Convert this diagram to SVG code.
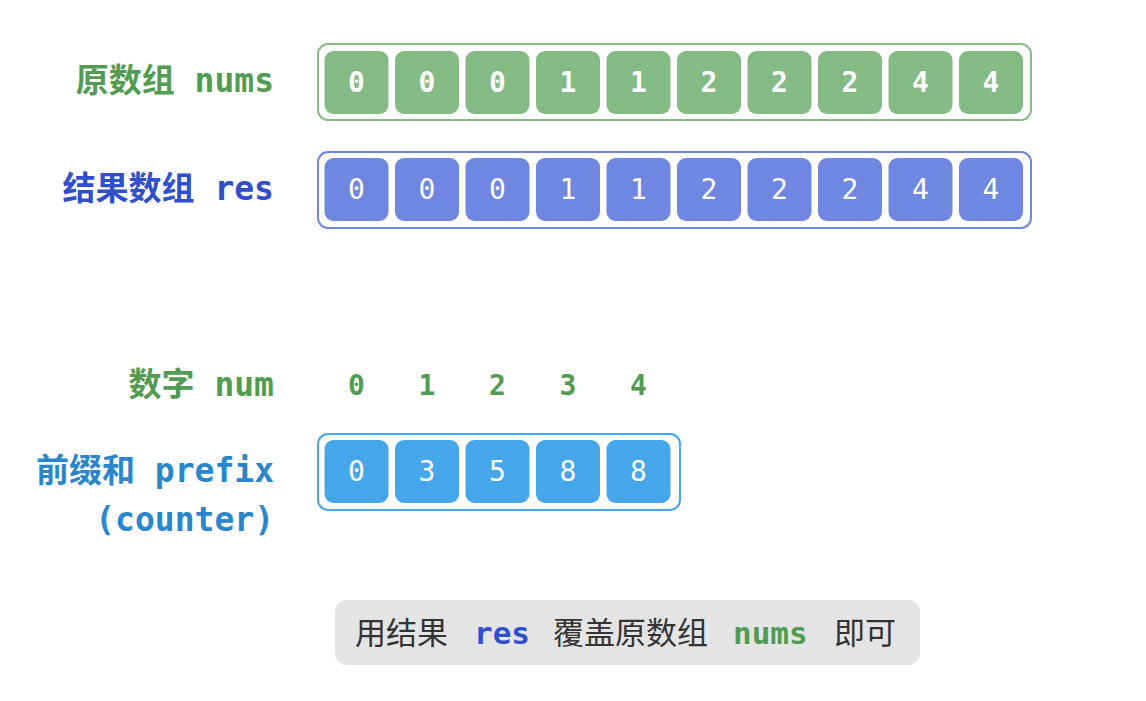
<svg xmlns="http://www.w3.org/2000/svg" width="1146" height="701" viewBox="0 0 1146 701">
<style>
.lbl{font-family:"DejaVu Sans Mono","Noto Sans CJK SC",monospace;font-weight:bold;font-size:33px;text-anchor:end}
.g{fill:#529b52}
.b{fill:#2f4fcd}
.lb{fill:#2a86cb}
.dig{font-family:"DejaVu Sans Mono",monospace;font-size:28px;fill:#ffffff;text-anchor:middle}
.bold{font-weight:bold}
.box{fill:#ffffff;stroke-width:2}
.numd{font-family:"DejaVu Sans Mono",monospace;font-size:28px;font-weight:bold;fill:#529b52;text-anchor:middle}
.note{font-family:"Noto Sans CJK SC","Noto Sans",sans-serif;font-size:31px;fill:#333333}
.code{font-family:"DejaVu Sans Mono",monospace;font-weight:bold;font-size:31px}
</style>
<rect width="1146" height="701" fill="#ffffff"/>

<g id="label-nums"><text class="lbl g" x="274" y="92">原数组 nums</text></g>
<g id="label-res"><text class="lbl b" x="274" y="200">结果数组 res</text></g>
<g id="label-num"><text class="lbl g" x="274" y="396">数字 num</text></g>
<g id="label-prefix"><text class="lbl lb" x="274" y="482">前缀和 prefix</text><text class="lbl lb" x="274" y="531">(counter)</text></g>

<g id="nums">
<rect class="box" x="318" y="44" width="713" height="76" rx="10" stroke="#86bc86"/>
<g fill="#84ba84">
<rect x="324.5" y="51" width="64" height="63" rx="9"/>
<rect x="395" y="51" width="64" height="63" rx="9"/>
<rect x="465.5" y="51" width="64" height="63" rx="9"/>
<rect x="536" y="51" width="64" height="63" rx="9"/>
<rect x="606.5" y="51" width="64" height="63" rx="9"/>
<rect x="677" y="51" width="64" height="63" rx="9"/>
<rect x="747.5" y="51" width="64" height="63" rx="9"/>
<rect x="818" y="51" width="64" height="63" rx="9"/>
<rect x="888.5" y="51" width="64" height="63" rx="9"/>
<rect x="959" y="51" width="64" height="63" rx="9"/>
</g>
<g class="dig bold">
<text x="356.5" y="92">0</text><text x="427" y="92">0</text><text x="497.5" y="92">0</text><text x="568" y="92">1</text><text x="638.5" y="92">1</text><text x="709" y="92">2</text><text x="779.5" y="92">2</text><text x="850" y="92">2</text><text x="920.5" y="92">4</text><text x="991" y="92">4</text>
</g>
</g>

<g id="res">
<rect class="box" x="318" y="152" width="713" height="76" rx="10" stroke="#6f87e0"/>
<g fill="#6f87e0">
<rect x="324.5" y="158" width="64" height="63" rx="9"/>
<rect x="395" y="158" width="64" height="63" rx="9"/>
<rect x="465.5" y="158" width="64" height="63" rx="9"/>
<rect x="536" y="158" width="64" height="63" rx="9"/>
<rect x="606.5" y="158" width="64" height="63" rx="9"/>
<rect x="677" y="158" width="64" height="63" rx="9"/>
<rect x="747.5" y="158" width="64" height="63" rx="9"/>
<rect x="818" y="158" width="64" height="63" rx="9"/>
<rect x="888.5" y="158" width="64" height="63" rx="9"/>
<rect x="959" y="158" width="64" height="63" rx="9"/>
</g>
<g class="dig">
<text x="356.5" y="199">0</text><text x="427" y="199">0</text><text x="497.5" y="199">0</text><text x="568" y="199">1</text><text x="638.5" y="199">1</text><text x="709" y="199">2</text><text x="779.5" y="199">2</text><text x="850" y="199">2</text><text x="920.5" y="199">4</text><text x="991" y="199">4</text>
</g>
</g>

<g id="num-values">
<text class="numd" x="356.5" y="395">0</text><text class="numd" x="427" y="395">1</text><text class="numd" x="497.5" y="395">2</text><text class="numd" x="568" y="395">3</text><text class="numd" x="638.5" y="395">4</text>
</g>

<g id="prefix">
<rect class="box" x="318" y="434" width="362" height="76" rx="10" stroke="#46a6ea"/>
<g fill="#46a6ea">
<rect x="324.5" y="440" width="64" height="63" rx="9"/>
<rect x="395" y="440" width="64" height="63" rx="9"/>
<rect x="465.5" y="440" width="64" height="63" rx="9"/>
<rect x="536" y="440" width="64" height="63" rx="9"/>
<rect x="606.5" y="440" width="64" height="63" rx="9"/>
</g>
<g class="dig">
<text x="356.5" y="481">0</text><text x="427" y="481">3</text><text x="497.5" y="481">5</text><text x="568" y="481">8</text><text x="638.5" y="481">8</text>
</g>
</g>

<g id="note">
<rect x="335" y="600" width="585" height="65" rx="12" fill="#e4e4e4"/>
<text class="note" x="355" y="644">用结果</text>
<text class="code b" x="474" y="644">res</text>
<text class="note" x="553" y="644">覆盖原数组</text>
<text class="code g" x="733" y="644">nums</text>
<text class="note" x="834" y="644">即可</text>
</g>
</svg>
